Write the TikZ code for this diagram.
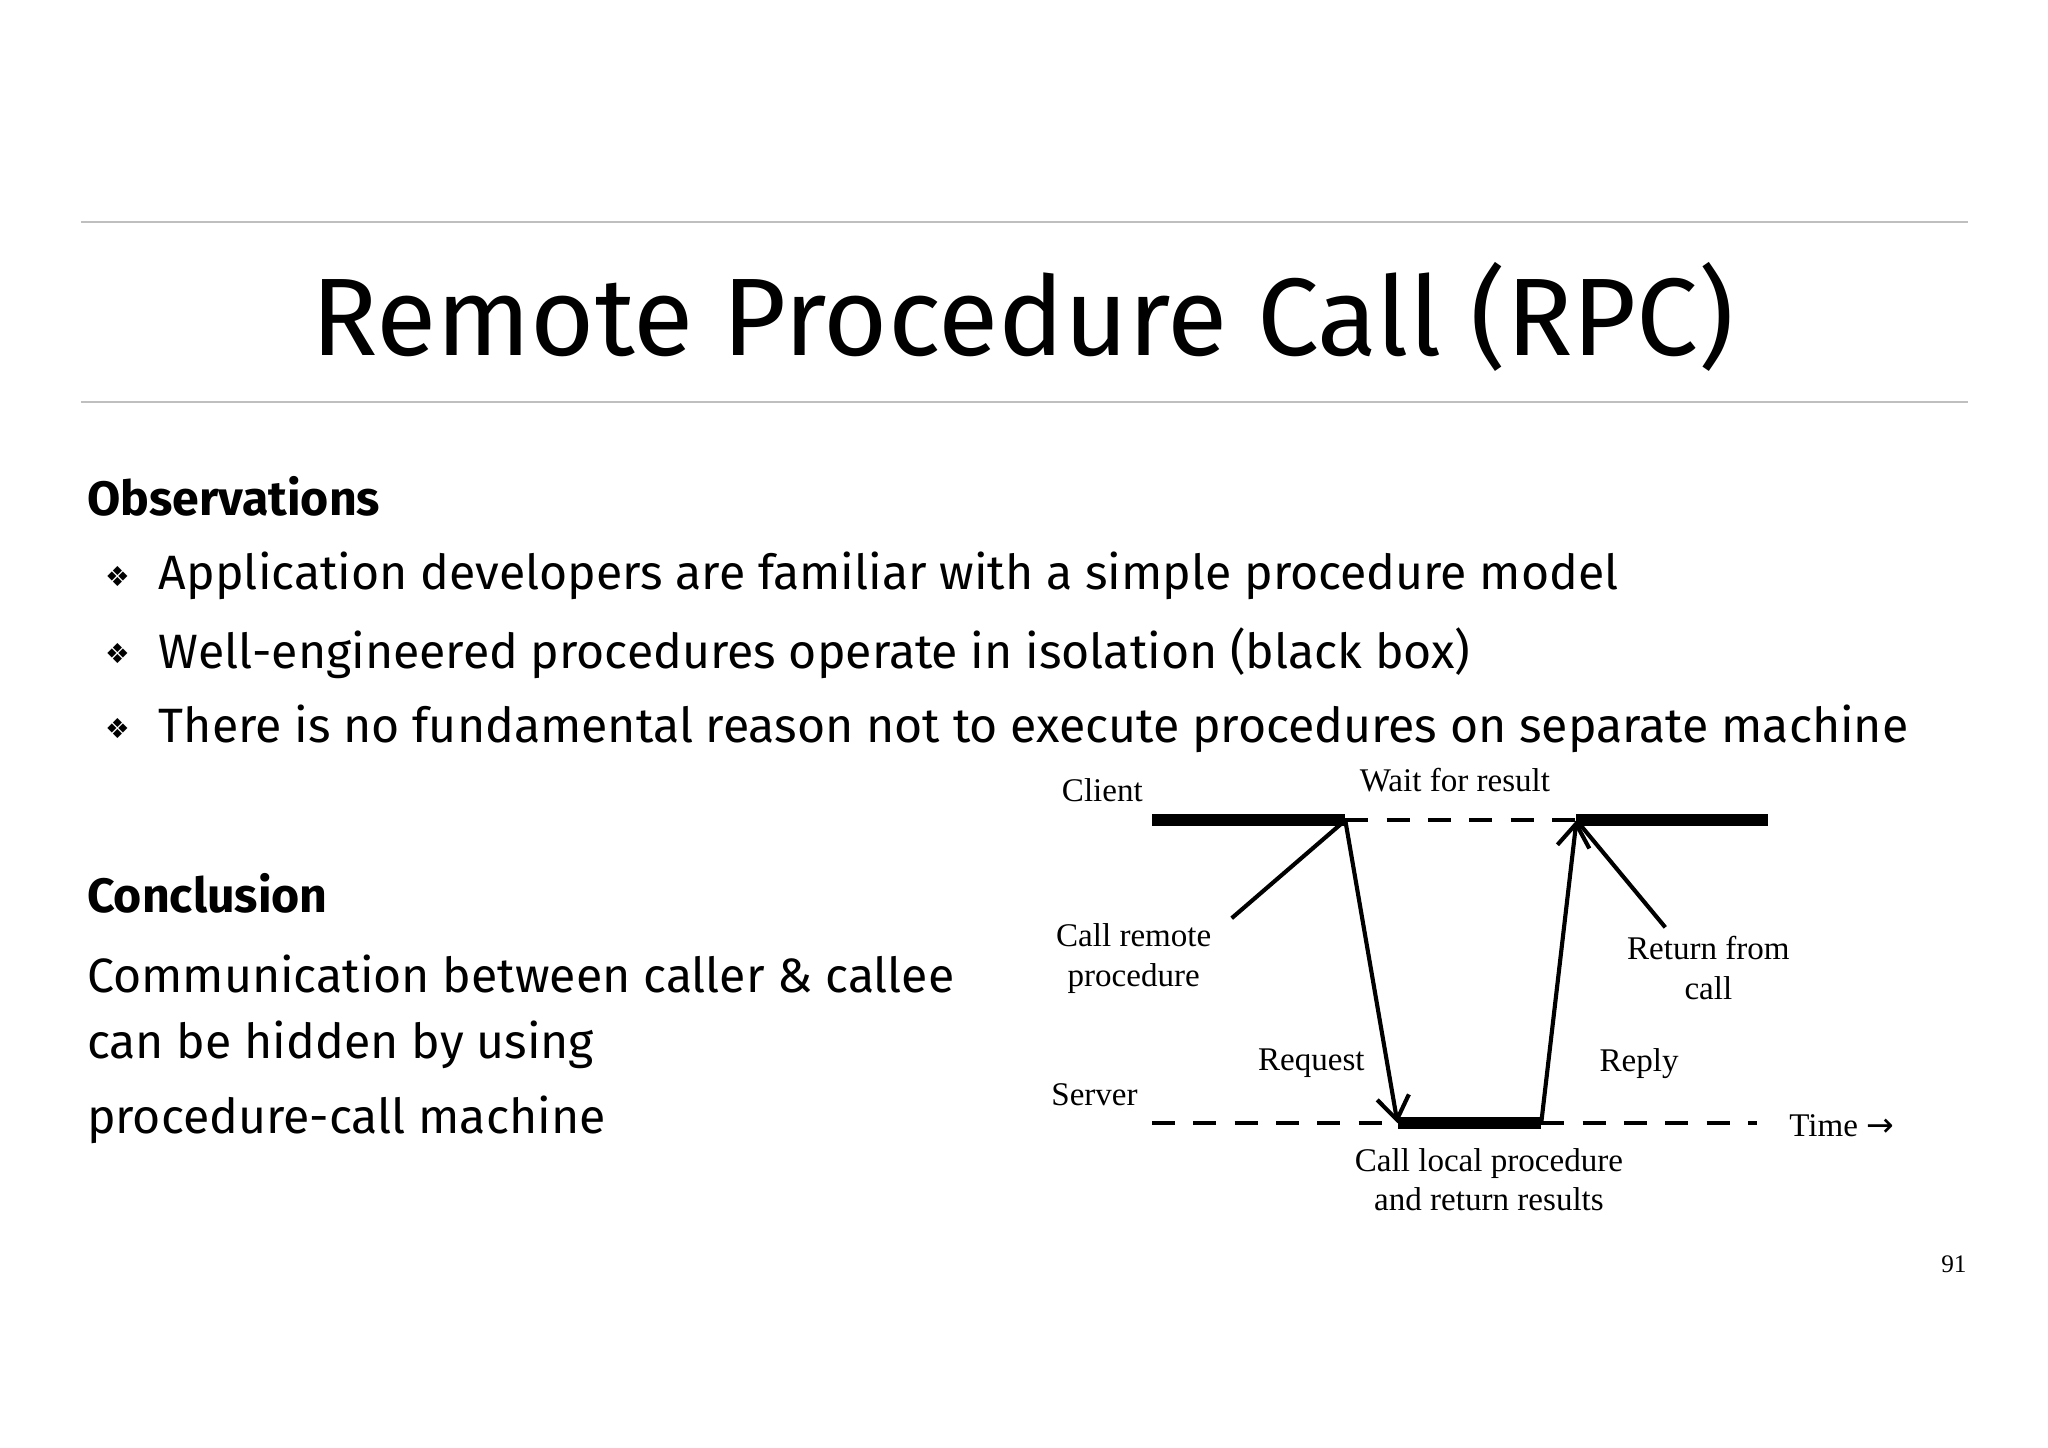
\documentclass[tikz,border=0pt]{standalone}
\usepackage{fontspec}
\setmainfont{Fira Sans}
\newfontfamily\serifd{Liberation Serif}
\newfontfamily\dvs{DejaVu Sans}
\usetikzlibrary{arrows.meta}
\begin{document}
\begin{tikzpicture}[x=0.01cm,y=-0.01cm,
  lbl/.style={font=\serifd\fontsize{7.2}{8.6}\selectfont,align=center,inner sep=0},
  body/.style={font=\fontsize{10.5}{12}\selectfont,anchor=west,inner sep=0},
  head/.style={font=\bfseries\fontsize{10.5}{12}\selectfont,anchor=west,inner sep=0},
  thickl/.style={line width=2.6pt},
  dashl/.style={dashed,line width=0.8pt,dash pattern=on 5pt off 4pt},
  arr/.style={line width=0.9pt,-{Straight Barb[length=5pt,width=7pt]}}]
\useasboundingbox (0,0) rectangle (1568,1108);
\draw[gray!50,line width=0.4pt] (62,170) -- (1507,170);
\draw[gray!50,line width=0.4pt] (62,308) -- (1507,308);
\node[font=\fontsize{24}{28}\selectfont,inner sep=0] (title) at (783,243) {Remote Procedure Call (RPC)};
\node[head] (obs) at (66,380) {Observations};
\foreach \y/\t [count=\i] in {441/Application developers are familiar with a simple procedure model,
  500/Well-engineered procedures operate in isolation (black box),
  558/There is no fundamental reason not to execute procedures on separate machine}{
  \node[font=\dvs\fontsize{6}{7}\selectfont,inner sep=0] (b\i) at (90,\y) {❖};
  \node[body] (t\i) at (121,\y) {\t};
}
\node[head] (conc) at (66,684) {Conclusion};
\node[body] (c1) at (66,746) {Communication between caller \& callee};
\node[body] (c2) at (66,800) {can be hidden by using};
\node[body] (c3) at (66,857) {procedure-call machine};
% diagram
\coordinate (ca) at (882,628); \coordinate (cb) at (1030,628);
\coordinate (cc) at (1207,628); \coordinate (cd) at (1354,628);
\coordinate (sa) at (882,860); \coordinate (sb) at (1070,860);
\coordinate (sc) at (1180,860); \coordinate (sd) at (1345,860);
\draw[thickl] (ca) -- (cb);
\draw[dashl] (cb) -- (cc);
\draw[thickl] (cc) -- (cd);
\draw[dashl] (sa) -- (sb);
\draw[thickl] (sb) -- (sc);
\draw[dashl] (sc) -- (sd);
\draw[arr] (cb) -- (sb);
\draw[arr] (sc) -- (cc);
\coordinate (p1) at (943,703); \coordinate (p2) at (1275,710);
\draw[line width=0.9pt] (p1) -- (cb);
\draw[line width=0.9pt] (p2) -- (cc);
\node[lbl] (client) at (844,605) {Client};
\node[lbl] (wait) at (1114,597) {Wait for result};
\node[lbl] (crp) at (868,734) {Call remote\\procedure};
\node[lbl] (rfc) at (1308,741) {Return from\\call};
\node[lbl] (req) at (1004,814) {Request};
\node[lbl] (rep) at (1255,814) {Reply};
\node[lbl] (server) at (838,838) {Server};
\node[lbl] (time) at (1410,862) {Time \dvs →};
\node[lbl] (clp) at (1140,903) {Call local procedure\\and return results};
\node[lbl,font=\serifd\fontsize{5.5}{6}\selectfont] (pg) at (1496,968) {91};
\end{tikzpicture}
\end{document}
